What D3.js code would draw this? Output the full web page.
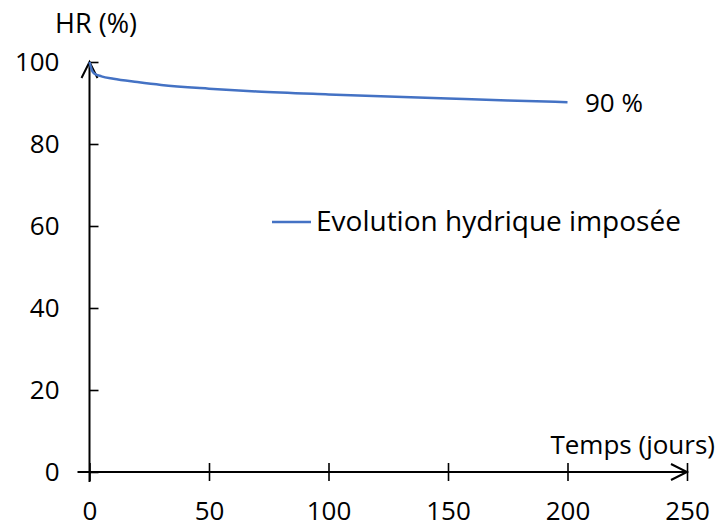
<!DOCTYPE html>
<html><head><meta charset="utf-8">
<script src="https://cdn.jsdelivr.net/npm/d3@7"></script>
<style>body{margin:0;background:#fff}svg{display:block}</style>
</head><body>
<script>
const days = [0, 1, 2, 5, 10, 20, 30, 50, 70, 100, 125, 150, 175, 200];
const hr   = [100, 98, 97.2, 96.5, 95.9, 95.1, 94.4, 93.5, 92.8, 92.1, 91.6, 91.1, 90.6, 90.2];
const xTicks = [0, 50, 100, 150, 200, 250];
const yTicks = [0, 20, 40, 60, 80, 100];
const seriesName = "Evolution hydrique imposée";
const finalLabel = "90 %";

const W = 718, H = 527;
const font = "'Open Sans', sans-serif";
const fs = 26;
const svg = d3.select("body").append("svg").attr("width", W).attr("height", H);
const x = d3.scaleLinear().domain([0, 250]).range([89.5, 687]);
const y = d3.scaleLinear().domain([0, 100]).range([472, 62]);

// x axis
const xa = svg.append("g").attr("transform", `translate(0,${y(0)})`)
  .call(d3.axisBottom(x).tickValues(xTicks).tickSizeInner(9).tickSizeOuter(0).tickPadding(22));
xa.select(".domain").remove();
xa.selectAll(".tick line").attr("y1", -9).attr("stroke", "#000").attr("stroke-width", 1.6);
xa.selectAll(".tick text").attr("font-family", font).attr("font-size", fs).attr("fill", "#000")
  .attr("dy", null).attr("y", 48);
svg.append("line").attr("x1", x(0) - 12).attr("x2", x(250)).attr("y1", y(0)).attr("y2", y(0))
  .attr("stroke", "#000").attr("stroke-width", 2);
svg.append("path").attr("d", `M${x(250)-16},${y(0)-8}L${x(250)},${y(0)}L${x(250)-16},${y(0)+8}`)
  .attr("fill", "none").attr("stroke", "#000").attr("stroke-width", 2);

// y axis
const ya = svg.append("g").attr("transform", `translate(${x(0)},0)`)
  .call(d3.axisLeft(y).tickValues(yTicks).tickSizeInner(9).tickSizeOuter(0).tickPadding(21));
ya.select(".domain").remove();
ya.selectAll(".tick line").attr("x2", 9).attr("stroke", "#000").attr("stroke-width", 1.6);
ya.selectAll(".tick text").attr("font-family", font).attr("font-size", fs).attr("fill", "#000")
  .attr("dy", null).attr("y", 8);
svg.append("line").attr("x1", x(0)).attr("x2", x(0)).attr("y1", y(100)).attr("y2", y(0) + 10)
  .attr("stroke", "#000").attr("stroke-width", 2);
svg.append("path").attr("d", `M${x(0)-8},${y(100)+16}L${x(0)},${y(100)}L${x(0)+8},${y(100)+16}`)
  .attr("fill", "none").attr("stroke", "#000").attr("stroke-width", 2);

// line
const data = days.map((d, i) => [d, hr[i]]);
svg.append("path").datum(data)
  .attr("d", d3.line().x(d => x(d[0])).y(d => y(d[1])).curve(d3.curveMonotoneX))
  .attr("fill", "none").attr("stroke", "#4472C4").attr("stroke-width", 2.5);

// labels
svg.append("text").attr("x", 96).attr("y", 33).attr("text-anchor", "middle")
  .attr("font-family", font).attr("font-size", 27).text("HR (%)");
svg.append("text").attr("x", 715).attr("y", 454).attr("text-anchor", "end")
  .attr("font-family", font).attr("font-size", fs).text("Temps (jours)");
svg.append("text").attr("x", 585).attr("y", 112)
  .attr("font-family", font).attr("font-size", fs).text(finalLabel);

// legend
svg.append("line").attr("x1", 272).attr("x2", 311).attr("y1", 222).attr("y2", 222)
  .attr("stroke", "#4472C4").attr("stroke-width", 2.5);
svg.append("text").attr("x", 316).attr("y", 231)
  .attr("font-family", font).attr("font-size", 28).text(seriesName);
</script>
</body></html>
